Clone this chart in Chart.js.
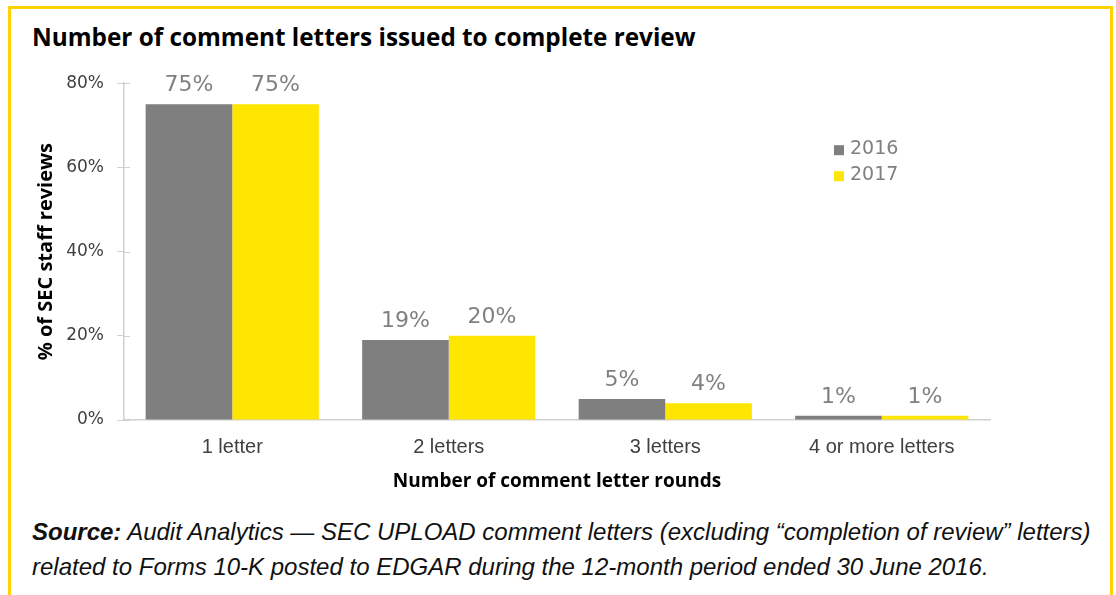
<!DOCTYPE html>
<html>
<head>
<meta charset="utf-8">
<script src="https://cdn.jsdelivr.net/npm/chart.js@4"></script>
<style>
  html, body { margin: 0; padding: 0; background: #fff; }
  body { width: 1116px; height: 595px; position: relative; overflow: hidden; }
  .frame { position: absolute; left: 8px; top: 6px; width: 1099px; height: 620px;
           border: 3px solid #FFD200; border-bottom: none; }
  .title { position: absolute; left: 32px; top: 21px; font: 700 24.3px 'Open Sans', sans-serif;
           color: #000; white-space: nowrap; line-height: 32px; }
  .wrap { position: absolute; left: 0; top: 60px; width: 1116px; height: 440px; }
  .source { position: absolute; left: 32px; top: 514px; font: italic 24px 'Liberation Sans', sans-serif;
            color: #111; line-height: 35px; white-space: nowrap; }
  .source b { font-weight: 700; }
</style>
</head>
<body>
<div class="frame"></div>
<div class="title">Number of comment letters issued to complete review</div>
<div class="wrap"><canvas id="chart"></canvas></div>
<div class="source"><b>Source:</b> Audit Analytics — SEC UPLOAD comment letters (excluding “completion of review” letters)<br>related to Forms 10-K posted to EDGAR during the 12-month period ended 30 June 2016.</div>
<script>
const categories = ['1 letter', '2 letters', '3 letters', '4 or more letters']
const years = ['2016', '2017']
const values2016 = [75, 19, 5, 1]
const values2017 = [75, 20, 4, 1]
const yTicks = [0, 20, 40, 60, 80]

const colors = ['#7f7f7f', '#FFE600']
const axisColor = '#d0d0d0'

// value labels above bars, crossing y ticks, legend in the plot area
const extras = {
  id: 'extras',
  afterDatasetsDraw(chart) {
    const { ctx, chartArea } = chart
    ctx.save()
    ctx.font = '22px "DejaVu Sans"'
    ctx.fillStyle = '#808080'
    ctx.textAlign = 'center'
    ctx.textBaseline = 'alphabetic'
    chart.data.datasets.forEach((ds, di) => {
      chart.getDatasetMeta(di).data.forEach((bar, i) => {
        ctx.fillText(ds.data[i] + '%', bar.x, bar.y - 13)
      })
    })
    // right half of the y tick marks
    const y = chart.scales.y
    ctx.strokeStyle = axisColor
    ctx.lineWidth = 1
    yTicks.forEach(v => {
      const py = Math.round(y.getPixelForValue(v)) + 0.5
      ctx.beginPath()
      ctx.moveTo(chartArea.left, py)
      ctx.lineTo(chartArea.left + 6, py)
      ctx.stroke()
    })
    // legend
    ctx.font = '19px "DejaVu Sans"'
    ctx.textAlign = 'left'
    ctx.textBaseline = 'middle'
    years.forEach((yr, i) => {
      const lx = chartArea.left + 710
      const ly = chartArea.top + 66 + i * 26
      ctx.fillStyle = colors[i]
      ctx.fillRect(lx, ly - 4, 10, 10)
      ctx.fillStyle = '#808080'
      ctx.fillText(yr, lx + 16, ly)
    })
    ctx.restore()
  }
}

new Chart(document.getElementById('chart').getContext('2d'), {
  type: 'bar',
  data: {
    labels: categories,
    datasets: [
      { label: years[0], data: values2016, backgroundColor: colors[0], categoryPercentage: 0.8, barPercentage: 1.0 },
      { label: years[1], data: values2017, backgroundColor: colors[1], categoryPercentage: 0.8, barPercentage: 1.0 },
    ]
  },
  options: {
    responsive: true,
    maintainAspectRatio: false,
    animation: false,
    layout: { padding: { left: 0, right: 126, top: 22, bottom: 0 } },
    plugins: { legend: { display: false }, tooltip: { enabled: false } },
    scales: {
      x: {
        grid: { display: false },
        border: { color: axisColor, width: 1.5 },
        ticks: { color: '#404040', font: { family: 'Liberation Sans', size: 20 }, padding: 7 },
        title: { display: true, text: 'Number of comment letter rounds', color: '#000',
                 font: { family: 'Open Sans', weight: 'bold', size: 19 }, padding: { top: 0, bottom: 7 } },
        afterFit(scale) { scale.height = 80 }
      },
      y: {
        min: 0, max: 80,
        afterBuildTicks(scale) { scale.ticks = yTicks.map(v => ({ value: v })) },
        grid: { drawOnChartArea: false, tickLength: 7, color: axisColor },
        border: { color: axisColor, width: 1.5 },
        ticks: { color: '#404040', font: { family: 'DejaVu Sans', size: 17 }, padding: 13,
                 callback: v => v + '%' },
        title: { display: true, text: '% of SEC staff reviews', color: '#000',
                 font: { family: 'Open Sans', weight: 'bold', size: 20 }, padding: { top: 34, bottom: 0 } },
        afterFit(scale) { scale.width = 124 }
      }
    }
  },
  plugins: [extras]
})
</script>
</body>
</html>
